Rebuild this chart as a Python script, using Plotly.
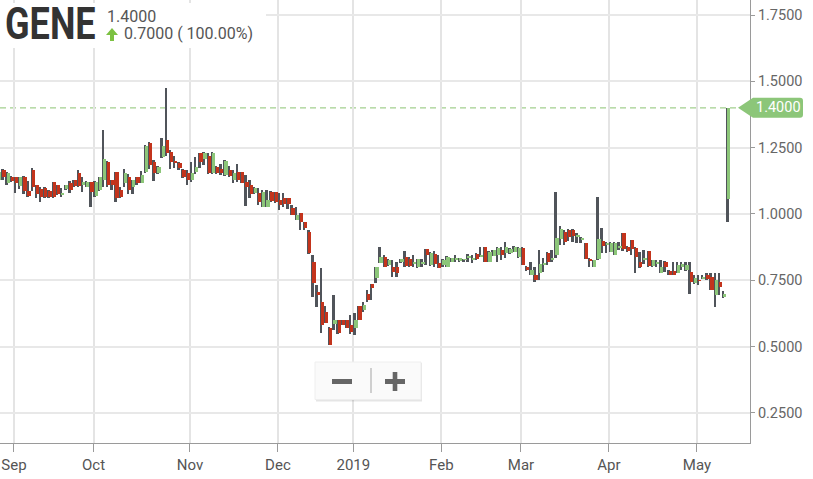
import pandas as pd
import plotly.graph_objects as go

# ---------------- data ----------------
HOLIDAYS = ["2018-09-03", "2018-11-22", "2018-12-05", "2018-12-24", "2018-12-25",
            "2019-01-01", "2019-01-21", "2019-02-18", "2019-04-19"]
DATES = [d.strftime("%Y-%m-%d") for d in pd.bdate_range("2018-08-28", "2019-05-10")
         if d.strftime("%Y-%m-%d") not in HOLIDAYS]

OPEN = [1.128, 1.166, 1.117, 1.140, 1.139, 1.106, 1.140, 1.087, 1.166, 1.109, 1.094,
        1.098, 1.087, 1.121, 1.109, 1.075, 1.094, 1.117, 1.128, 1.155, 1.110,
        1.102, 1.121, 1.068, 1.090, 1.128, 1.196, 1.128, 1.158, 1.090, 1.117,
        1.139, 1.102, 1.139, 1.117, 1.158, 1.268, 1.196, 1.155, 1.215, 1.279,
        1.234, 1.200, 1.192, 1.166, 1.155, 1.128, 1.158, 1.230, 1.207, 1.219,
        1.155, 1.177, 1.170, 1.147, 1.166, 1.128, 1.158, 1.158, 1.120, 1.109,
        1.079, 1.079, 1.026, 1.026, 1.083, 1.083, 1.053, 1.060, 1.060, 1.023,
        0.977, 1.004, 0.970, 0.932, 0.819, 0.706, 0.668, 0.630, 0.570, 0.585,
        0.600, 0.600, 0.600, 0.582, 0.570, 0.653, 0.638, 0.700, 0.736, 0.759,
        0.815, 0.838, 0.808, 0.800, 0.800, 0.820, 0.838, 0.830, 0.810, 0.800,
        0.815, 0.868, 0.808, 0.850, 0.815, 0.808, 0.800, 0.820, 0.830, 0.823,
        0.828, 0.835, 0.830, 0.850, 0.840, 0.876, 0.820, 0.842, 0.845, 0.864,
        0.853, 0.853, 0.857, 0.838, 0.872, 0.800, 0.770, 0.770, 0.778, 0.810,
        0.853, 0.830, 0.845, 0.906, 0.932, 0.940, 0.940, 0.915, 0.905, 0.890,
        0.830, 0.800, 0.830, 0.900, 0.885, 0.857, 0.845, 0.875, 0.928, 0.876,
        0.902, 0.872, 0.820, 0.830, 0.860, 0.804, 0.815, 0.778, 0.820, 0.785,
        0.785, 0.778, 0.800, 0.790, 0.780, 0.740, 0.750, 0.758, 0.770, 0.762,
        0.695, 0.744, 0.687, 1.057]

HIGH = [1.162, 1.170, 1.160, 1.145, 1.140, 1.140, 1.142, 1.124, 1.173, 1.110, 1.100,
        1.100, 1.090, 1.121, 1.110, 1.098, 1.110, 1.124, 1.130, 1.166, 1.139,
        1.124, 1.121, 1.124, 1.140, 1.317, 1.200, 1.130, 1.160, 1.100, 1.170,
        1.150, 1.130, 1.140, 1.162, 1.260, 1.270, 1.204, 1.180, 1.287, 1.475,
        1.240, 1.220, 1.195, 1.170, 1.166, 1.196, 1.215, 1.230, 1.232, 1.230,
        1.232, 1.180, 1.190, 1.205, 1.180, 1.166, 1.190, 1.160, 1.147, 1.128,
        1.100, 1.098, 1.090, 1.090, 1.085, 1.083, 1.079, 1.080, 1.062, 1.034,
        1.026, 1.004, 0.970, 0.940, 0.845, 0.732, 0.796, 0.653, 0.575, 0.695,
        0.600, 0.600, 0.600, 0.620, 0.627, 0.653, 0.668, 0.714, 0.736, 0.800,
        0.876, 0.845, 0.830, 0.827, 0.820, 0.830, 0.860, 0.838, 0.845, 0.830,
        0.830, 0.868, 0.855, 0.860, 0.845, 0.830, 0.840, 0.836, 0.845, 0.836,
        0.832, 0.850, 0.845, 0.852, 0.876, 0.876, 0.860, 0.866, 0.874, 0.876,
        0.895, 0.870, 0.878, 0.876, 0.876, 0.805, 0.820, 0.800, 0.864, 0.834,
        0.857, 0.864, 1.083, 0.955, 0.940, 0.945, 0.942, 0.928, 0.915, 0.892,
        0.834, 0.828, 1.064, 0.947, 0.895, 0.895, 0.895, 0.895, 0.928, 0.880,
        0.902, 0.876, 0.857, 0.864, 0.860, 0.827, 0.827, 0.827, 0.823, 0.790,
        0.820, 0.820, 0.820, 0.820, 0.820, 0.770, 0.770, 0.770, 0.778, 0.778,
        0.778, 0.778, 0.710, 1.400]

LOW = [1.120, 1.130, 1.110, 1.120, 1.079, 1.094, 1.075, 1.064, 1.087, 1.060, 1.045,
       1.060, 1.060, 1.060, 1.070, 1.064, 1.090, 1.079, 1.100, 1.102, 1.083,
       1.100, 1.026, 1.064, 1.087, 1.102, 1.100, 1.090, 1.045, 1.060, 1.100,
       1.075, 1.075, 1.110, 1.117, 1.155, 1.170, 1.124, 1.150, 1.211, 1.220,
       1.170, 1.173, 1.165, 1.135, 1.109, 1.120, 1.150, 1.173, 1.185, 1.150,
       1.150, 1.150, 1.147, 1.145, 1.140, 1.117, 1.120, 1.115, 1.030, 1.060,
       1.075, 1.034, 1.026, 1.026, 1.045, 1.040, 1.015, 1.026, 1.020, 0.996,
       0.977, 0.940, 0.940, 0.850, 0.687, 0.650, 0.551, 0.590, 0.506, 0.563,
       0.548, 0.580, 0.570, 0.548, 0.544, 0.600, 0.630, 0.668, 0.676, 0.740,
       0.815, 0.800, 0.805, 0.762, 0.762, 0.815, 0.800, 0.800, 0.800, 0.795,
       0.800, 0.808, 0.805, 0.800, 0.796, 0.800, 0.800, 0.818, 0.820, 0.820,
       0.820, 0.820, 0.815, 0.828, 0.838, 0.820, 0.818, 0.840, 0.820, 0.827,
       0.834, 0.850, 0.855, 0.834, 0.808, 0.785, 0.770, 0.745, 0.751, 0.780,
       0.808, 0.820, 0.834, 0.883, 0.883, 0.900, 0.894, 0.890, 0.890, 0.830,
       0.800, 0.800, 0.827, 0.853, 0.853, 0.857, 0.845, 0.864, 0.860, 0.857,
       0.845, 0.778, 0.796, 0.810, 0.800, 0.800, 0.800, 0.778, 0.780, 0.770,
       0.770, 0.778, 0.790, 0.785, 0.700, 0.736, 0.732, 0.755, 0.751, 0.714,
       0.650, 0.695, 0.684, 0.970]

CLOSE = [1.158, 1.139, 1.155, 1.125, 1.117, 1.139, 1.087, 1.068, 1.102, 1.075, 1.064,
         1.064, 1.064, 1.064, 1.075, 1.080, 1.109, 1.090, 1.106, 1.106, 1.120,
         1.121, 1.083, 1.121, 1.139, 1.207, 1.109, 1.109, 1.060, 1.064, 1.155,
         1.090, 1.128, 1.117, 1.147, 1.256, 1.185, 1.155, 1.177, 1.256, 1.230,
         1.196, 1.195, 1.173, 1.139, 1.128, 1.155, 1.177, 1.196, 1.230, 1.155,
         1.230, 1.155, 1.155, 1.200, 1.143, 1.155, 1.128, 1.117, 1.100, 1.075,
         1.098, 1.045, 1.083, 1.053, 1.049, 1.045, 1.034, 1.038, 1.038, 0.996,
         0.996, 0.970, 0.947, 0.853, 0.740, 0.695, 0.582, 0.590, 0.506, 0.600,
         0.552, 0.582, 0.570, 0.555, 0.600, 0.600, 0.657, 0.676, 0.721, 0.800,
         0.838, 0.800, 0.827, 0.780, 0.778, 0.830, 0.804, 0.805, 0.820, 0.830,
         0.820, 0.845, 0.853, 0.810, 0.796, 0.827, 0.838, 0.834, 0.835, 0.834,
         0.830, 0.840, 0.834, 0.830, 0.846, 0.820, 0.857, 0.864, 0.872, 0.845,
         0.876, 0.868, 0.876, 0.872, 0.808, 0.790, 0.789, 0.751, 0.812, 0.815,
         0.820, 0.835, 0.910, 0.943, 0.895, 0.913, 0.917, 0.920, 0.910, 0.830,
         0.825, 0.827, 0.906, 0.880, 0.890, 0.890, 0.890, 0.880, 0.868, 0.860,
         0.868, 0.838, 0.800, 0.834, 0.804, 0.827, 0.820, 0.800, 0.800, 0.770,
         0.770, 0.808, 0.810, 0.808, 0.745, 0.759, 0.748, 0.762, 0.755, 0.714,
         0.751, 0.725, 0.700, 1.400]

TICK_LABELS = ["Sep", "Oct", "Nov", "Dec", "2019", "Feb", "Mar", "Apr", "May"]
Y_TICKS = [0.25, 0.5, 0.75, 1.0, 1.25, 1.5, 1.75]
SYMBOL = "GENE"

assert len(DATES) == len(OPEN) == len(HIGH) == len(LOW) == len(CLOSE)

# first trading day of each month -> tick positions
tickvals = []
seen = set()
for d in DATES:
    m = d[:7]
    if m not in seen:
        seen.add(m)
        tickvals.append(d)
tickvals = tickvals[1:]  # August is not labelled

# ---------------- styling ----------------
UP = "#8cc679"
DOWN = "#c3341c"
WICK = "#50545a"
W, H = 813, 479
PW, PH = 750, 443  # plot area in pixels


def px(x):
    return x / PW


def py(y):
    return 1 - y / PH


up_x = [d for d, o, c in zip(DATES, OPEN, CLOSE) if c >= o]
up_base = [o for o, c in zip(OPEN, CLOSE) if c >= o]
up_h = [max(c - o, 0.002) for o, c in zip(OPEN, CLOSE) if c >= o]
dn_x = [d for d, o, c in zip(DATES, OPEN, CLOSE) if c < o]
dn_base = [c for o, c in zip(OPEN, CLOSE) if c < o]
dn_h = [o - c for o, c in zip(OPEN, CLOSE) if c < o]

fig = go.Figure()
fig.add_trace(go.Bar(x=DATES, y=[h - l for h, l in zip(HIGH, LOW)], base=LOW,
                     width=0.46, offset=0.08, marker=dict(color=WICK, line=dict(width=0)),
                     hoverinfo="skip"))
fig.add_trace(go.Bar(x=up_x, y=up_h, base=up_base, width=0.78, offset=0.22,
                     marker=dict(color=UP, line=dict(width=0)), hoverinfo="skip"))
fig.add_trace(go.Bar(x=dn_x, y=dn_h, base=dn_base, width=0.78, offset=0.22,
                     marker=dict(color=DOWN, line=dict(width=0)), hoverinfo="skip"))

last = CLOSE[-1]
prev = CLOSE[-2]
chg = last - prev
pct = chg / prev * 100

shapes = []
# last price dashed line
shapes.append(dict(type="line", xref="paper", yref="y", x0=0, x1=px(738), y0=last, y1=last,
                   line=dict(color="#a3d08f", width=1.3, dash="6px,4px"), layer="between"))
# price tag
shapes.append(dict(type="path", xref="paper", yref="y", xsizemode="pixel", ysizemode="pixel",
                   xanchor=1, yanchor=last,
                   path="M -12,0 L 3,10 L 50,10 Q 53,10 53,7 L 53,-7 Q 53,-10 50,-10 L 3,-10 Z",
                   fillcolor=UP, line=dict(width=0), layer="above"))
# white header box
shapes.append(dict(type="rect", xref="paper", yref="paper", x0=0, x1=px(266), y0=py(48), y1=py(3),
                   fillcolor="white", line=dict(width=0), layer="above"))
# green up arrow
ax, ay = 112, 28
shapes.append(dict(type="path", xref="paper", yref="paper",
                   path=(f"M {px(ax)},{py(ay)} L {px(ax+6)},{py(ay+7)} L {px(ax+2)},{py(ay+7)} "
                         f"L {px(ax+2)},{py(ay+13)} L {px(ax-2)},{py(ay+13)} L {px(ax-2)},{py(ay+7)} "
                         f"L {px(ax-6)},{py(ay+7)} Z"),
                   fillcolor="#7cc142", line=dict(width=0), layer="above"))
# zoom control
shapes.append(dict(type="rect", xref="paper", yref="paper", x0=px(316), x1=px(422), y0=py(401.5), y1=py(363),
                   fillcolor="rgba(0,0,0,0.10)", line=dict(width=0), layer="above"))
shapes.append(dict(type="rect", xref="paper", yref="paper", x0=px(315), x1=px(421), y0=py(399.5), y1=py(362),
                   fillcolor="#fafafa", line=dict(color="#eeeeee", width=1), layer="above"))
shapes.append(dict(type="rect", xref="paper", yref="paper", x0=px(332), x1=px(352), y0=py(384), y1=py(379),
                   fillcolor="#666666", line=dict(width=0), layer="above"))
shapes.append(dict(type="rect", xref="paper", yref="paper", x0=px(385), x1=px(405), y0=py(384), y1=py(379),
                   fillcolor="#666666", line=dict(width=0), layer="above"))
shapes.append(dict(type="rect", xref="paper", yref="paper", x0=px(392.7), x1=px(397.3), y0=py(391), y1=py(372),
                   fillcolor="#666666", line=dict(width=0), layer="above"))
shapes.append(dict(type="line", xref="paper", yref="paper", x0=px(371), x1=px(371), y0=py(393), y1=py(368),
                   line=dict(color="#cfcfcf", width=2), layer="above"))

annotations = [
    dict(text=f"<b>{SYMBOL}</b>", xref="paper", yref="paper", x=px(3), y=py(24),
         xanchor="left", yanchor="middle", showarrow=False,
         font=dict(family="Roboto", size=44, color="#333333")),
    dict(text=f"{last:.4f}", xref="paper", yref="paper", x=px(105), y=py(16),
         xanchor="left", yanchor="middle", showarrow=False,
         font=dict(family="Roboto", size=16, color="#555555")),
    dict(text=f"{chg:.4f} ( {pct:.2f}%)", xref="paper", yref="paper", x=px(122), y=py(34),
         xanchor="left", yanchor="middle", showarrow=False,
         font=dict(family="Roboto", size=16, color="#555555")),
    dict(text=f"{last:.4f}", xref="paper", yref="y", x=px(778), y=last,
         xanchor="center", yanchor="middle", showarrow=False,
         font=dict(family="Roboto", size=14.5, color="white")),
]

fig.update_layout(
    width=W, height=H,
    margin=dict(l=0, r=W - PW, t=0, b=H - PH, pad=0),
    paper_bgcolor="white", plot_bgcolor="white",
    showlegend=False, barmode="overlay", bargap=0,
    shapes=shapes, annotations=annotations,
    xaxis=dict(type="category", range=[0.666, 179.66], tickvals=tickvals, ticktext=TICK_LABELS,
               showgrid=True, gridcolor="#e4e4e4", gridwidth=2,
               ticks="outside", ticklen=8, tickcolor="#9a9a9a", tickwidth=1,
               showline=True, linecolor="#9a9a9a", linewidth=1, zeroline=False,
               tickfont=dict(family="Roboto", size=15, color="#555555")),
    yaxis=dict(side="right", range=[0.1368, 1.8066], tickvals=Y_TICKS, tickformat=".4f",
               showgrid=True, gridcolor="#e8e8e8", gridwidth=1.5,
               ticks="outside", ticklen=4, tickcolor="#9a9a9a", tickwidth=1,
               showline=True, linecolor="#9a9a9a", linewidth=1, zeroline=False,
               tickfont=dict(family="Roboto", size=14.5, color="#666666")),
)

POST = """
document.body.style.margin = '0';
document.body.style.padding = '0';
function condense() {
  var gd = document.getElementById('{plot_id}');
  if (!gd) return;
  gd.querySelectorAll('text.annotation-text').forEach(function (t) {
    if (t.textContent === 'GENE') {
      var bb = t.getBBox();
      var x0 = bb.x;
      t.setAttribute('transform', 'translate(' + x0 + ',0) scale(0.82,1) translate(' + (-x0) + ',0)');
    }
  });
}
condense();
setTimeout(condense, 50);
setTimeout(condense, 400);
"""

fig.write_html("out.html", post_script=POST, config={"displayModeBar": False})
